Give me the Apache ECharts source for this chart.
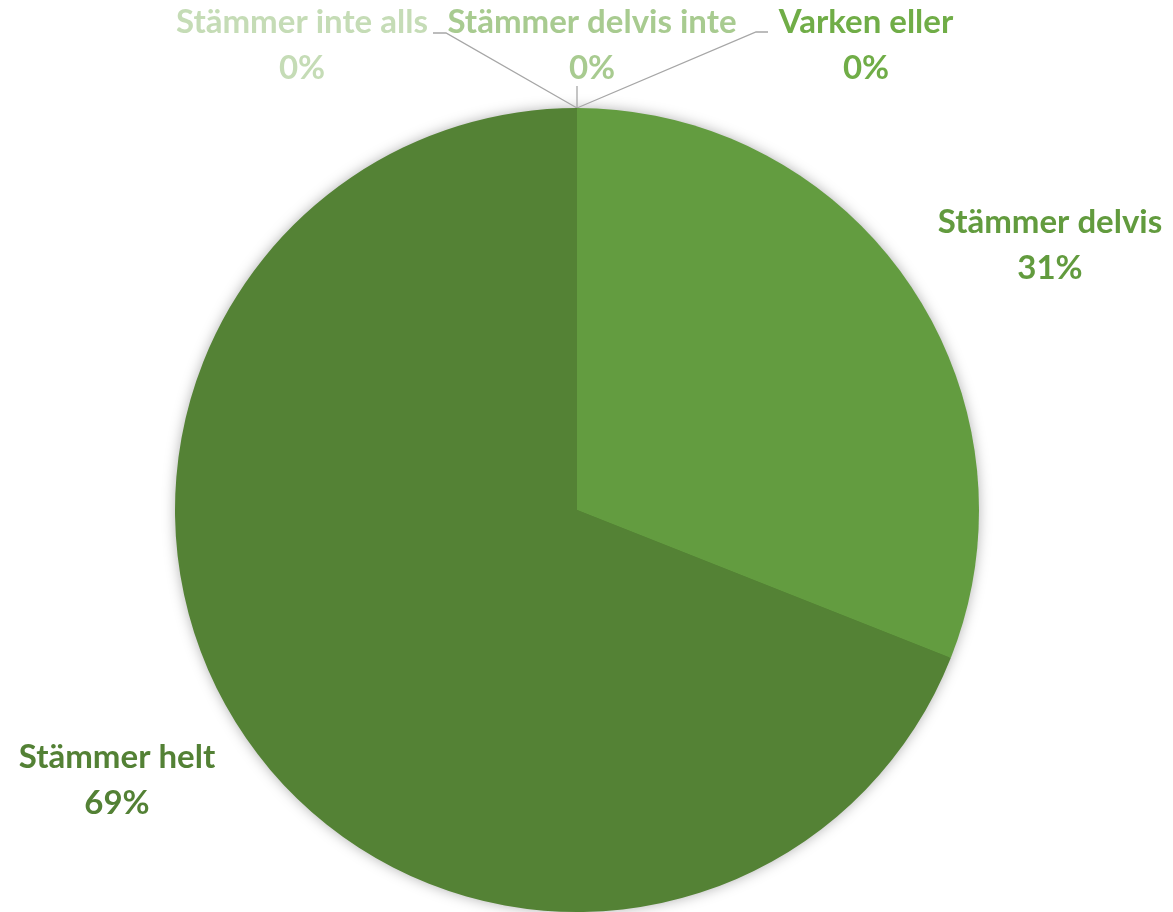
<!DOCTYPE html>
<html>
<head>
<meta charset="utf-8">
<script src="https://cdn.jsdelivr.net/npm/echarts@6/dist/echarts.min.js"></script>
<style>html,body{margin:0;padding:0;background:#fff}#c{width:1173px;height:912px}</style>
</head>
<body>
<div id="c"></div>
<script>
const categories = ['Stämmer inte alls', 'Stämmer delvis inte', 'Varken eller', 'Stämmer delvis', 'Stämmer helt'];
const values = [0, 0, 0, 31, 69];
const sliceColors = ['#C5DCB6', '#A9CC92', '#70AD47', '#639C40', '#548235'];
const labelColors = ['#C5DCB6', '#A8CB90', '#70AD47', '#629B3E', '#538135'];
// label placement (centre of text block, px) and leader-line routes
const labelPos = [[302, 45], [592, 45], [866, 45], [1050, 245], [117, 780]];
const leaderLines = [
  [[577, 108], [446, 33], [433, 33]],
  [[577, 108], [577, 86]],
  [[577, 108], [756, 32], [768, 32]],
  null,
  null
];

const chart = echarts.init(document.getElementById('c'));
chart.setOption({
  animation: false,
  series: [{
    type: 'pie',
    silent: true,
    z: 1,
    center: [577, 510],
    radius: 401,
    label: { show: false },
    labelLine: { show: false },
    itemStyle: { color: '#548235', shadowBlur: 14, shadowColor: 'rgba(0,0,0,0.35)' },
    data: [{ value: values.reduce((a, b) => a + b, 0), name: '' }]
  }, {
    type: 'pie',
    z: 2,
    center: [577, 510],
    radius: 402,
    startAngle: 90,
    clockwise: true,
    avoidLabelOverlap: false,
    data: categories.map((n, i) => ({
      name: n,
      value: values[i],
      itemStyle: { color: sliceColors[i] },
      label: { color: labelColors[i] },
      labelLine: { show: !!leaderLines[i] }
    })),
    itemStyle: { borderWidth: 0 },
    label: {
      show: true,
      formatter: '{b}\n{d}%',
      fontFamily: 'Lato',
      fontWeight: 'bold',
      fontSize: 33,
      lineHeight: 46,
      align: 'center'
    },
    labelLine: { show: true, lineStyle: { color: '#A6A6A6', width: 1.3 } },
    labelLayout: function (p) {
      const i = p.dataIndex;
      const o = { x: labelPos[i][0], y: labelPos[i][1], align: 'center', verticalAlign: 'middle' };
      if (leaderLines[i]) o.labelLinePoints = leaderLines[i];
      return o;
    }
  }]
});
</script>
</body>
</html>
